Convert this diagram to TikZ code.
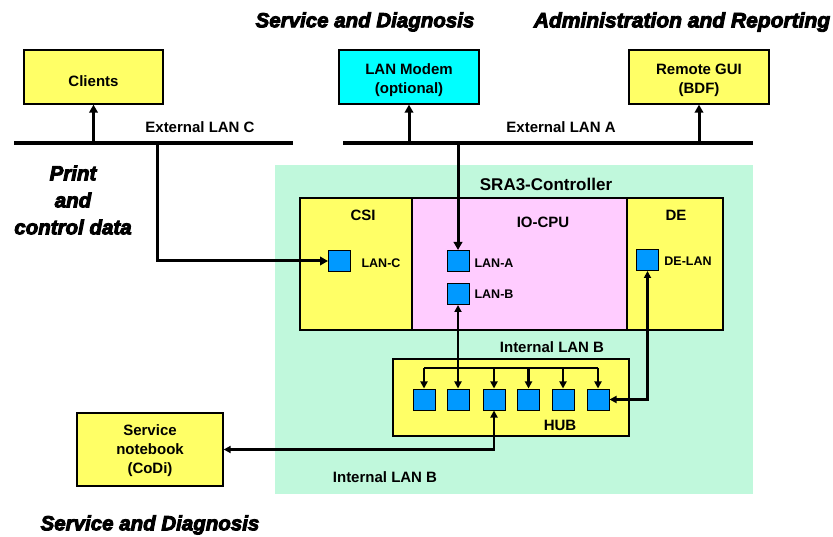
\documentclass[tikz,border=0pt]{standalone}
\usepackage{fontspec}
\setmainfont{Liberation Sans}
\newfontfamily\headfont{Liberation Sans Bold Italic}
\newcommand\heavytxt[1]{\special{pdf:literal direct 2 Tr 0.9 w}#1\special{pdf:literal direct 0 Tr}}
\usetikzlibrary{arrows.meta}
\definecolor{boxyellow}{HTML}{FFFF66}
\definecolor{modemcyan}{HTML}{00FFFF}
\definecolor{ctrlgreen}{HTML}{C0F8DC}
\definecolor{cpupink}{HTML}{FFCCFF}
\definecolor{portblue}{HTML}{0099FF}
\begin{document}
\begin{tikzpicture}[x=1pt,y=-1pt,
  lbl/.style={font=\bfseries\fontsize{15}{18}\selectfont, inner sep=0},
  small/.style={font=\bfseries\fontsize{12.5}{15}\selectfont, inner sep=0},
  head/.style={font=\headfont\fontsize{20.5}{24}\selectfont, inner sep=0, align=center},
  box/.style={draw=black, line width=1.3pt, fill=boxyellow, inner sep=0},
  boxtxt/.style={inner sep=0, align=center, font=\bfseries\fontsize{15}{19}\selectfont},
  part/.style={draw=black, line width=1.3pt, inner sep=0},
  port/.style={draw=black, line width=1pt, fill=portblue, inner sep=0,
    minimum width=22, minimum height=21},
  bus/.style={line width=3.2pt},
  arr/.style={line width=3pt, -{Triangle[length=8pt,width=8.5pt]}},
  link/.style={line width=2.2pt, -{Triangle[length=7pt,width=7pt]}},
  linkb/.style={line width=2.2pt, {Triangle[length=7pt,width=7pt]}-{Triangle[length=7pt,width=7pt]}},
]
\useasboundingbox (0,0) rectangle (833,537);

% headings
\node[head] (hsd) at (365,22) {\heavytxt{Service and Diagnosis}};
\node[head, font=\headfont\fontsize{21}{24}\selectfont] (har) at (682,22) {\heavytxt{Administration and Reporting}};
\node[head] (hsd2) at (150,525) {\heavytxt{Service and Diagnosis}};
\node[head] (print) at (73,200) {\heavytxt{Print}\\[3pt]\heavytxt{and}\\[3pt]\heavytxt{control data}};

% top boxes
\node[box, minimum width=139, minimum height=54] (clients) at (93.5,77) {};
\node[box, fill=modemcyan, minimum width=140, minimum height=54] (modem) at (409,77) {};
\node[box, minimum width=140, minimum height=54] (gui) at (699,77) {};
\node[boxtxt] (clientsT) at ([yshift=-4pt]clients.center) {Clients};
\node[boxtxt] (modemT) at ([yshift=-3pt]modem.center) {LAN Modem\\(optional)};
\node[boxtxt] (guiT) at ([yshift=-3pt]gui.center) {Remote GUI\\(BDF)};

% external LANs
\coordinate (cL) at (14,143);
\coordinate (cR) at (293,143);
\coordinate (aL) at (343,143);
\coordinate (aR) at (753,143);
\draw[bus] (cL) -- (cR);
\draw[bus] (aL) -- (aR);
\node[lbl] (lanCtxt) at (200,127) {External LAN C};
\node[lbl] (lanAtxt) at (561,127) {External LAN A};

\draw[arr] (clients.south |- cL) -- (clients.south);
\draw[arr] (modem.south |- aL) -- (modem.south);
\draw[arr] (gui.south |- aL) -- (gui.south);

% controller
\node[fill=ctrlgreen, inner sep=0, minimum width=478, minimum height=329] (ctrl) at (514,329.5) {};
\node[lbl, font=\bfseries\fontsize{17}{20}\selectfont] (ctrltxt) at (546,184) {SRA3-Controller};

\node[part, fill=boxyellow, minimum width=112, minimum height=132] (csi) at (356,264) {};
\node[part, fill=cpupink, minimum width=215, minimum height=132] (cpu) at (519.5,264) {};
\node[part, fill=boxyellow, minimum width=96, minimum height=132] (de) at (675,264) {};
\node[lbl] (csitxt) at (363,215) {CSI};
\node[lbl] (cputxt) at (543,222) {IO-CPU};
\node[lbl] (detxt) at (676,215) {DE};

\node[port] (lanC) at (339.5,261) {};
\node[port] (lanA) at (458,261) {};
\node[port] (lanB) at (458,294) {};
\node[port] (delan) at (647.5,260) {};
\node[small] (lanCt) at (381,263) {LAN-C};
\node[small] (lanAt) at (494,263) {LAN-A};
\node[small] (lanBt) at (494,294) {LAN-B};
\node[small] (delant) at (688,261) {DE-LAN};

% hub
\node[part, fill=boxyellow, minimum width=236, minimum height=77] (hub) at (511,397.5) {};
\node[lbl] (hubtxt) at (560,425) {HUB};
\node[lbl] (ilb1) at (552,347) {Internal LAN B};
\node[lbl] (ilb2) at (385,477) {Internal LAN B};

\node[port] (h1) at (424,399.5) {};
\node[port] (h2) at (458,399.5) {};
\node[port] (h3) at (494,399.5) {};
\node[port] (h4) at (528.5,399.5) {};
\node[port] (h5) at (563,399.5) {};
\node[port] (h6) at (598,399.5) {};

% notebook
\node[box, minimum width=146, minimum height=73] (nb) at (150,449.5) {};
\node[boxtxt] (nbT) at ([yshift=-1.5pt]nb.center) {Service\\notebook\\(CoDi)};

% connections
\draw[arr] (lanA.north |- aL) -- (lanA.north);
\coordinate (cT) at (157,143);
\draw[arr] (cT) |- (lanC.west);
\draw[linkb] (lanB.south) -- (h2.north);

\coordinate (busY) at (0,368);
\draw[line width=2.2pt] (h1.north |- busY) -- (h6.north |- busY);
\foreach \h in {h1,h3,h4,h5,h6}{
  \draw[link] (\h.north |- busY) -- (\h.north);
}
\draw[linkb] (delan.south) |- (h6.east);
\draw[linkb] (h3.south) |- (nb.east);
\end{tikzpicture}
\end{document}
